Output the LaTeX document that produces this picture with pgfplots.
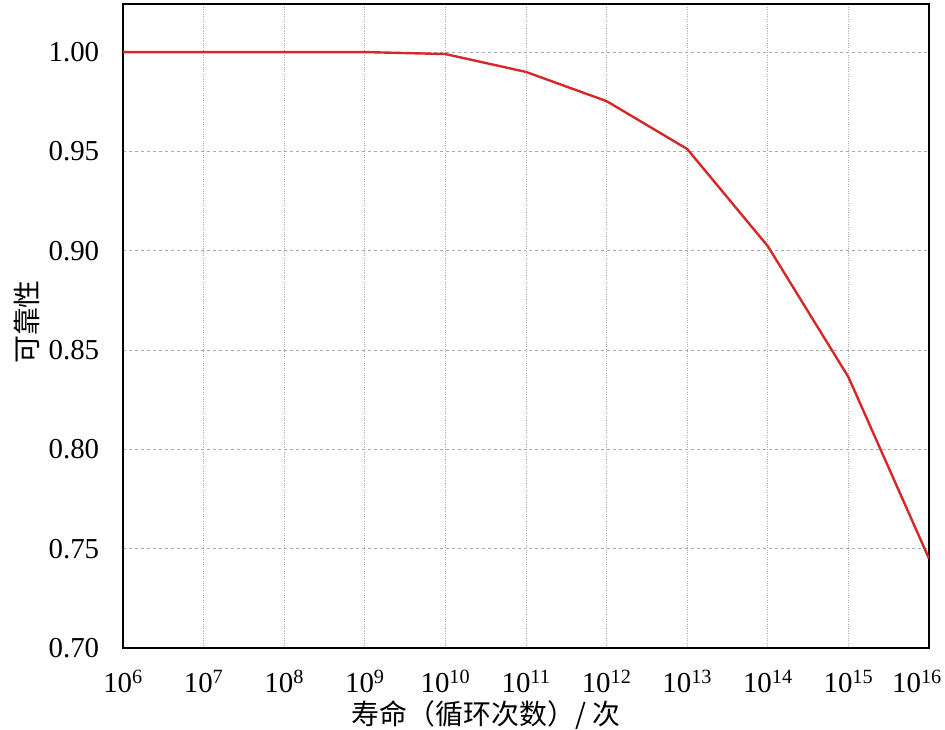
\documentclass[border=0pt]{standalone}
\usepackage{pgfplots}
\pgfplotsset{compat=1.18}
\usetikzlibrary{calc}
\usepackage{fontspec}
\setmainfont{Liberation Serif}
\newfontfamily\cjk{Noto Sans CJK SC}
\definecolor{curvered}{RGB}{214,40,40}
\definecolor{gridgray}{RGB}{170,170,170}
\begin{document}
\fontsize{29}{35}\selectfont
\begin{tikzpicture}
\begin{axis}[
  name=ax,
  scale only axis,
  width=806bp, height=644bp,
  xmode=log, log basis x=10,
  xmin=1e6, xmax=1e16,
  ymin=0.70, ymax=1.0242,
  xtick={1e6,1e7,1e8,1e9,1e10,1e11,1e12,1e13,1e14,1e15,1e16},
  xticklabels={10\textsuperscript{6},10\textsuperscript{7},10\textsuperscript{8},10\textsuperscript{9},10\textsuperscript{10},10\textsuperscript{11},10\textsuperscript{12},10\textsuperscript{13},10\textsuperscript{14},10\textsuperscript{15},10\textsuperscript{16}\hspace*{24bp}},
  ytick={0.70,0.75,0.80,0.85,0.90,0.95,1.00},
  yticklabel style={/pgf/number format/fixed,/pgf/number format/fixed zerofill,/pgf/number format/precision=2, xshift=-14bp},
  /pgf/number format/assume math mode=true,
  tick label style={font=\fontsize{29}{35}\selectfont},
  major tick length=0pt,
  minor tick num=0,
  axis line style={line width=2.8bp, black},
  xmajorgrids, ymajorgrids,
  x grid style={gridgray, dotted, line width=1bp},
  y grid style={gridgray, dashed, line width=1bp},
  xticklabel style={yshift=-12bp},
  xlabel={\cjk 寿命（循环次数）/ 次},
  ylabel={\cjk 可靠性},
  label style={font=\fontsize{28}{34}\selectfont},
  xlabel style={yshift=11bp, xshift=-40bp},
  ylabel style={yshift=-11bp, xshift=4bp},
  clip=true,
]
\addplot[curvered, line width=2.4bp] coordinates {
(1e6,1.000) (1e7,1.000) (1e8,1.000) (1e9,1.000) (1e10,0.999)
(1e11,0.990) (1e12,0.9753) (1e13,0.9512) (1e14,0.9023) (1e15,0.8364) (1e16,0.745)
};
\end{axis}
\pgfresetboundingbox
\path ($(ax.south west)+(-123bp,-82bp)$) rectangle ($(ax.north east)+(16bp,4bp)$);
\end{tikzpicture}
\end{document}
